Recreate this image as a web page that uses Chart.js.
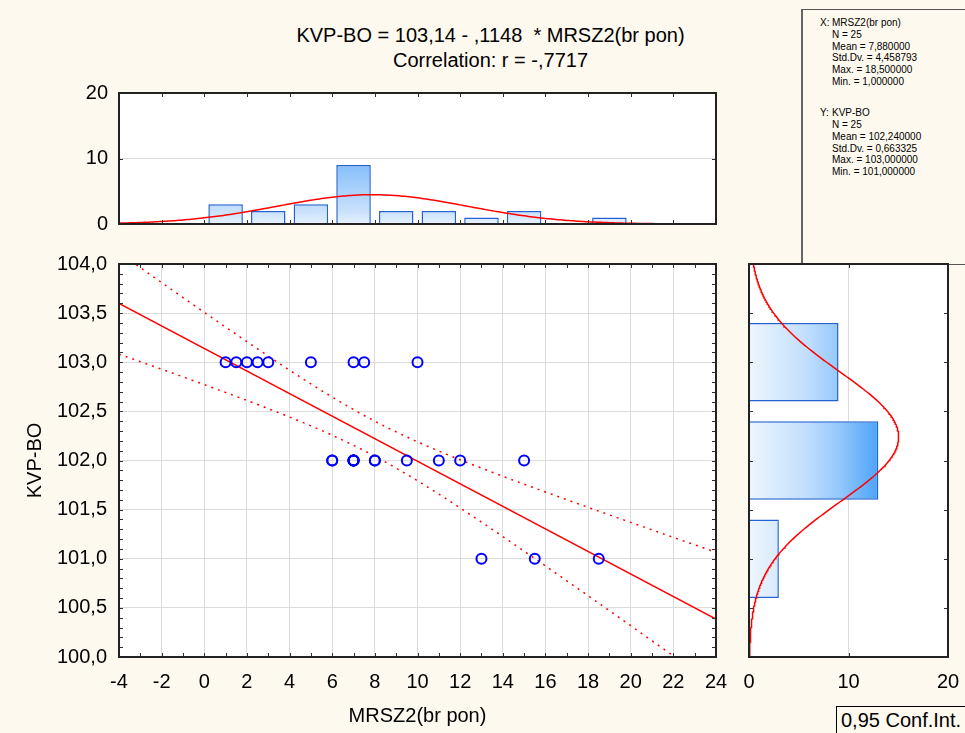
<!DOCTYPE html>
<html><head><meta charset="utf-8">
<script src="https://cdn.jsdelivr.net/npm/chart.js@4.4.1/dist/chart.umd.min.js"></script>
<style>
html,body{margin:0;padding:0;background:#fef9ee;width:965px;height:733px;overflow:hidden;font-family:"Liberation Sans",Arial,sans-serif;color:#000}
canvas{position:absolute}
.t{position:absolute;left:0;width:981px;text-align:center;font-size:20px;line-height:24px;white-space:pre}
#stats{position:absolute;left:801px;top:9px;width:170px;height:256px;border:1px solid #555;border-left:2px solid #666;box-sizing:border-box}
.sl{position:absolute;font-size:10px;line-height:12px;white-space:pre}
#conf{position:absolute;left:836px;top:706px;width:140px;height:30px;border:1px solid #000;box-sizing:border-box;font-size:20px;line-height:26px;padding-left:4px;white-space:pre}
</style></head><body>
<div class="t" style="top:23px">KVP-BO = 103,14 - ,1148  * MRSZ2(br pon)</div>
<div class="t" style="top:48px">Correlation: r = -,7717</div>
<div id="stats"></div>
<div id="conf">0,95 Conf.Int.</div>
<canvas id="cTop" width="730" height="170" style="left:0;top:70px"></canvas>
<canvas id="cMain" width="730" height="483" style="left:0;top:250px"></canvas>
<canvas id="cRight" width="230" height="483" style="left:735px;top:250px"></canvas>
<script>
// ---------------- DATA ----------------
const xTitle = 'MRSZ2(br pon)';
const yTitle = 'KVP-BO';
const pointsX = [1, 1.5, 2, 2.5, 3, 5, 7, 7.5, 10,
                 6, 6, 7, 7, 7, 7, 7, 8, 8, 9.5, 11, 12, 15,
                 13, 15.5, 18.5];
const pointsY = [103, 103, 103, 103, 103, 103, 103, 103, 103,
                 102, 102, 102, 102, 102, 102, 102, 102, 102, 102, 102, 102, 102,
                 101, 101, 101];
const histXCenters = [1, 3, 5, 7, 9, 11, 13, 15, 17, 19];
const histXCounts  = [3, 2, 3, 9, 2, 2, 1, 2, 0, 1];
const histYCenters = [101, 102, 103];
const histYCounts  = [3, 13, 9];
const xTickValues = [-4, -2, 0, 2, 4, 6, 8, 10, 12, 14, 16, 18, 20, 22, 24];
const yTickValues = [100, 100.5, 101, 101.5, 102, 102.5, 103, 103.5, 104];
const topHistTicks = [0, 10, 20];
const rightHistTicks = [0, 10, 20];
// statistics shown in the chart
const INTERCEPT = 103.14, SLOPE = -0.1148, R = -0.7717;
const N = 25;
const MEAN_X = 7.88, SD_X = 4.458793;
const MEAN_Y = 102.24, SD_Y = 0.663325;
const BIN_X = 2, BIN_Y = 1;
const T975 = 2.0687; // t(0.975, N-2)

// ---------------- stats box ----------------
const statLines = [
  ['X:', 'MRSZ2(br pon)', 23], ['', 'N = 25', 35], ['', 'Mean = 7,880000', 47],
  ['', 'Std.Dv. = 4,458793', 58], ['', 'Max. = 18,500000', 70], ['', 'Min. = 1,000000', 82],
  ['Y:', 'KVP-BO', 113], ['', 'N = 25', 125], ['', 'Mean = 102,240000', 137],
  ['', 'Std.Dv. = 0,663325', 149], ['', 'Max. = 103,000000', 160], ['', 'Min. = 101,000000', 172]
];
const sb = document.getElementById('stats');
statLines.forEach(([a, b, cy]) => {
  if (a) { const d = document.createElement('div'); d.className = 'sl'; d.textContent = a; d.style.left = (819 - 802) + 'px'; d.style.top = (cy - 6 - 10) + 'px'; sb.appendChild(d); }
  const e = document.createElement('div'); e.className = 'sl'; e.textContent = b; e.style.left = (831 - 802) + 'px'; e.style.top = (cy - 6 - 10) + 'px'; sb.appendChild(e);
});

// ---------------- derived curves ----------------
function normCount(v, mean, sd, w) { return N * w / (sd * Math.sqrt(2 * Math.PI)) * Math.exp(-0.5 * Math.pow((v - mean) / sd, 2)); }
const Sxx = SD_X * SD_X * (N - 1), Syy = SD_Y * SD_Y * (N - 1);
const sRes = Math.sqrt(Syy * (1 - R * R) / (N - 2));
const fitY = x => INTERCEPT + SLOPE * x;
const halfBand = x => T975 * sRes * Math.sqrt(1 / N + Math.pow(x - MEAN_X, 2) / Sxx);
const xs = []; for (let i = 0; i <= 280; i++) xs.push(-4 + i * 0.1);
const ys = []; for (let i = 0; i <= 400; i++) ys.push(100 + i * 0.01);
const topCurve = xs.map(x => ({x, y: normCount(x, MEAN_X, SD_X, BIN_X)}));
const rightCurve = ys.map(y => ({x: normCount(y, MEAN_Y, SD_Y, BIN_Y), y}));
const fitLine = [{x: -4, y: fitY(-4)}, {x: 24, y: fitY(24)}];
const upperBand = xs.map(x => ({x, y: fitY(x) + halfBand(x)}));
const lowerBand = xs.map(x => ({x, y: fitY(x) - halfBand(x)}));

// ---------------- common ----------------
Chart.defaults.font.family = "'Liberation Sans', Arial, sans-serif";
Chart.defaults.font.size = 20;
Chart.defaults.color = '#000';
const fmt1 = v => Number(v).toFixed(1).replace('.', ',');
const range = (a, b, s) => { const r = []; for (let v = a; v <= b + 1e-9; v += s) r.push(+v.toFixed(4)); return r; };
const noPad = s => { s.paddingLeft = 0; s.paddingRight = 0; s.paddingTop = 0; s.paddingBottom = 0; };
const fitW = w => s => { s.width = w; noPad(s); };
const fitH = h => s => { s.height = h; noPad(s); };

const frame = {
  id: 'frame',
  beforeDraw(c) { const a = c.chartArea, ctx = c.ctx; ctx.save(); ctx.fillStyle = '#fff'; ctx.fillRect(a.left, a.top, a.right - a.left, a.bottom - a.top); ctx.restore(); },
  afterDraw(c) {
    const o = c.options.plugins.frame || {}; const a = c.chartArea, ctx = c.ctx;
    ctx.save(); ctx.strokeStyle = '#333'; ctx.lineWidth = 1;
    (o.xt || []).forEach(v => { const p = Math.round(c.scales.x.getPixelForValue(v)) + 0.5; ctx.beginPath(); ctx.moveTo(p, a.bottom); ctx.lineTo(p, a.bottom - 4); ctx.moveTo(p, a.top); ctx.lineTo(p, a.top + 4); ctx.stroke(); });
    (o.yt || []).forEach(v => { const p = Math.round(c.scales.y.getPixelForValue(v)) + 0.5; ctx.beginPath(); ctx.moveTo(a.left, p); ctx.lineTo(a.left + 4, p); ctx.moveTo(a.right, p); ctx.lineTo(a.right - 4, p); ctx.stroke(); });
    ctx.lineWidth = 2; ctx.strokeStyle = '#222'; ctx.strokeRect(a.left, a.top, a.right - a.left, a.bottom - a.top);
    ctx.restore();
  }
};
const grid = {color: '#dcdcdc', lineWidth: 1, drawTicks: false};
const noBorder = {display: false};
const basePlugins = {legend: {display: false}, tooltip: {enabled: false}};

// ---------------- top histogram ----------------
new Chart(document.getElementById('cTop'), {
  type: 'bar',
  data: {datasets: [
    {type: 'scatter', showLine: true, data: topCurve, borderColor: '#ff0000', borderWidth: 1.5, pointRadius: 0, order: 0},
    {type: 'bar', data: histXCenters.map((x, i) => ({x, y: histXCounts[i]})), order: 1,
     barPercentage: 0.81, categoryPercentage: 1, borderColor: '#2462d2', borderWidth: 1.5,
     backgroundColor: ctx => { const c = ctx.chart; if (!c.chartArea) return '#cfe4fc'; const y0 = c.scales.y.getPixelForValue(0), y9 = c.scales.y.getPixelForValue(9);
       const g = c.ctx.createLinearGradient(0, y0, 0, y9); g.addColorStop(0, '#e6f1fe'); g.addColorStop(0.22, '#c9e1fc'); g.addColorStop(1, '#86bffa'); return g; }}
  ]},
  options: {
    responsive: false, animation: false,
    layout: {padding: {left: 0, top: 23, right: 14, bottom: 16}},
    scales: {
      x: {type: 'linear', min: -4, max: 24, display: false, offset: false,
          afterBuildTicks: s => { s.ticks = xTickValues.map(v => ({value: v})); }, afterFit: noPad},
      y: {min: 0, max: 20, grid, border: noBorder,
          afterBuildTicks: s => { s.ticks = topHistTicks.map(v => ({value: v})); },
          ticks: {padding: 11}, afterFit: fitW(119)}
    },
    plugins: {...basePlugins, frame: {xt: xTickValues, yt: topHistTicks}}
  },
  plugins: [frame]
});

// ---------------- main scatter ----------------
new Chart(document.getElementById('cMain'), {
  type: 'scatter',
  data: {datasets: [
    {data: pointsX.map((x, i) => ({x, y: pointsY[i]})), pointStyle: 'circle', pointRadius: 5, borderColor: '#0000ff', borderWidth: 2, backgroundColor: 'rgba(0,0,0,0)', order: 0},
    {data: fitLine, showLine: true, pointRadius: 0, borderColor: '#ff0000', borderWidth: 1.5, order: 1},
    {data: upperBand, showLine: true, pointRadius: 0, borderColor: '#ff0000', borderWidth: 1.5, borderDash: [2, 5], order: 2},
    {data: lowerBand, showLine: true, pointRadius: 0, borderColor: '#ff0000', borderWidth: 1.5, borderDash: [2, 5], order: 3}
  ]},
  options: {
    responsive: false, animation: false,
    layout: {padding: {left: 0, top: 14, right: 14, bottom: 0}},
    scales: {
      x: {type: 'linear', min: -4, max: 24, grid, border: noBorder,
          afterBuildTicks: s => { s.ticks = xTickValues.map(v => ({value: v})); },
          ticks: {padding: 13, maxRotation: 0},
          title: {display: true, text: xTitle, padding: {top: 0, bottom: 5}},
          afterFit: fitH(76)},
      y: {type: 'linear', min: 100, max: 104, grid, border: noBorder,
          afterBuildTicks: s => { s.ticks = yTickValues.map(v => ({value: v})); },
          ticks: {padding: 12, callback: v => fmt1(v)},
          title: {display: true, text: yTitle, padding: {top: 23, bottom: 0}},
          afterFit: fitW(119)}
    },
    plugins: {...basePlugins, frame: {xt: range(-4, 24, 1), yt: range(100, 104, 0.1)}}
  },
  plugins: [frame]
});

// ---------------- right histogram ----------------
new Chart(document.getElementById('cRight'), {
  type: 'bar',
  data: {datasets: [
    {type: 'scatter', showLine: true, data: rightCurve, borderColor: '#ff0000', borderWidth: 1.5, pointRadius: 0, order: 0},
    {type: 'bar', data: histYCenters.map((y, i) => ({x: histYCounts[i], y})), order: 1,
     barPercentage: 0.8, categoryPercentage: 1, borderColor: '#2462d2', borderWidth: 1.5,
     backgroundColor: ctx => { const c = ctx.chart; if (!c.chartArea) return '#cfe4fc'; const x0 = c.scales.x.getPixelForValue(0), x13 = c.scales.x.getPixelForValue(13);
       const g = c.ctx.createLinearGradient(x0, 0, x13, 0); g.addColorStop(0, '#eef6fe'); g.addColorStop(0.45, '#c0defc'); g.addColorStop(0.7, '#93c8fb'); g.addColorStop(1, '#4ca4fa'); return g; }}
  ]},
  options: {
    responsive: false, animation: false, indexAxis: 'y',
    layout: {padding: {left: 14, top: 14, right: 17, bottom: 0}},
    scales: {
      x: {type: 'linear', min: 0, max: 20, grid, border: noBorder,
          afterBuildTicks: s => { s.ticks = rightHistTicks.map(v => ({value: v})); },
          ticks: {padding: 13, maxRotation: 0},
          afterFit: fitH(76)},
      y: {type: 'linear', min: 100, max: 104, display: false, offset: false,
          afterBuildTicks: s => { s.ticks = range(100, 104, BIN_Y).map(v => ({value: v})); }, afterFit: noPad}
    },
    plugins: {...basePlugins, frame: {xt: rightHistTicks, yt: range(100, 104, 0.5)}}
  },
  plugins: [frame]
});
</script>
</body></html>
